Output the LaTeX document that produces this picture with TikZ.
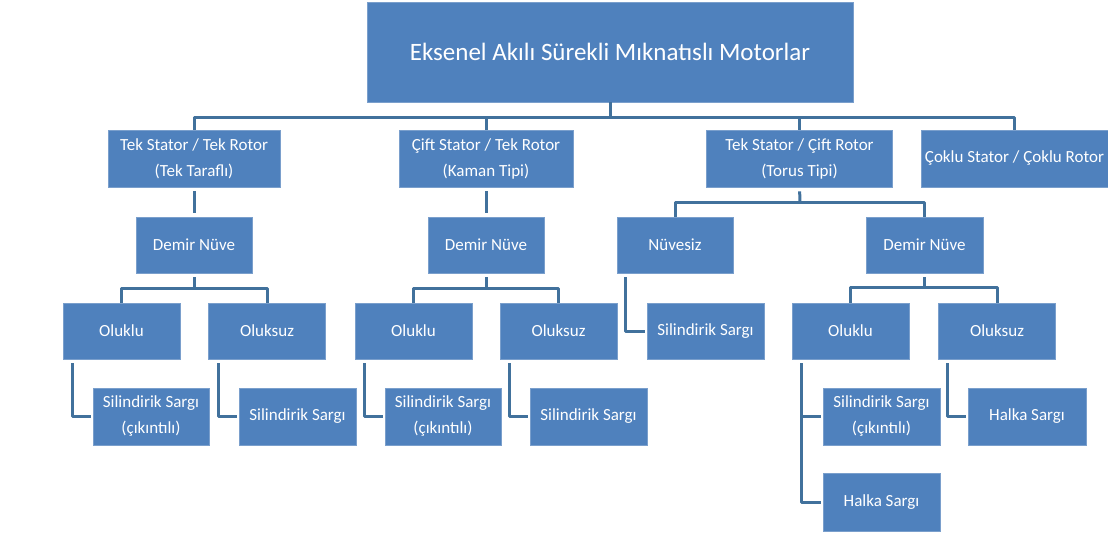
\documentclass[tikz,border=0pt]{standalone}
\usepackage{fontspec}
\setmainfont{Carlito}
\definecolor{boxblue}{HTML}{4F81BD}
\definecolor{boxedge}{HTML}{7A9FCC}
\definecolor{linkblue}{HTML}{41719C}
\newcommand\mybox[6]{\node[box, minimum width=#4pt, minimum height=#5pt] (#1) at (#2,#3) {#6};}
\begin{document}
\begin{tikzpicture}[x=1pt,y=-1pt,
  box/.style={fill=boxblue, draw=boxedge, line width=0.8pt, text=white,
    inner sep=0pt, align=center, font=\fontsize{17}{26}\selectfont},
  conn/.style={draw=linkblue, line width=3pt, line join=round},
  gap/.style={shorten <=4pt, shorten >=4pt},
]
\useasboundingbox (0,0) rectangle (1108,533);

% root
\node[box, minimum width=486pt, minimum height=100pt, font=\fontsize{25}{28}\selectfont]
  (root) at (610,52) {Eksenel Akılı Sürekli Mıknatıslı Motorlar};

% first level
\mybox{A}{194}{158.5}{172}{57}{Tek Stator / Tek Rotor\\(Tek Taraflı)}
\mybox{B}{486}{158.5}{174}{57}{Çift Stator / Tek Rotor\\(Kaman Tipi)}
\mybox{C}{799.5}{158.5}{186}{57}{Tek Stator / Çift Rotor\\(Torus Tipi)}
\mybox{D}{1014.5}{158.5}{187}{57}{Çoklu Stator / Çoklu Rotor}

% second level
\mybox{DA}{194}{245}{116}{56}{Demir Nüve}
\mybox{DB}{486}{245}{116}{56}{Demir Nüve}
\mybox{N}{675}{245}{116}{56}{Nüvesiz}
\mybox{DC}{924.5}{245}{117}{56}{Demir Nüve}

% third level
\mybox{OA}{121.5}{331}{117}{56}{Oluklu}
\mybox{SA}{267}{331}{117}{56}{Oluksuz}
\mybox{OB}{413.5}{331}{117}{56}{Oluklu}
\mybox{SB}{558.5}{331}{117}{56}{Oluksuz}
\mybox{NS}{705.5}{331}{117}{56}{Silindirik Sargı}
\mybox{OC}{850.5}{331}{117}{56}{Oluklu}
\mybox{SC}{997}{331}{117}{56}{Oluksuz}

% fourth level
\mybox{A1}{151}{416.5}{116}{57}{Silindirik Sargı\\(çıkıntılı)}
\mybox{A2}{297.5}{416.5}{117}{57}{Silindirik Sargı}
\mybox{B1}{443}{416.5}{116}{57}{Silindirik Sargı\\(çıkıntılı)}
\mybox{B2}{588.5}{416.5}{117}{57}{Silindirik Sargı}
\mybox{C1}{881.5}{416.5}{117}{57}{Silindirik Sargı\\(çıkıntılı)}
\mybox{C3}{1027}{416.5}{118}{57}{Halka Sargı}
\mybox{C2}{881.5}{502}{117}{58}{Halka Sargı}

% bus lines
\coordinate (busT) at (610,117);
\coordinate (busA) at (194,288);
\coordinate (busB) at (486,288);
\coordinate (busC) at (800,202);
\coordinate (busD) at (924.5,287);

\draw[conn] (root.south) -- (root.south |- busT);
\draw[conn] (A.north) -- (A.north |- busT) -- (D.north |- busT) -- (D.north);
\draw[conn] (B.north) -- (B.north |- busT);
\draw[conn] (C.north) -- (C.north |- busT);

\draw[conn, gap] (A.south) -- (DA.north);
\draw[conn, gap] (B.south) -- (DB.north);

\draw[conn, shorten <=4pt] (DA.south) -- (busA);
\draw[conn] (OA.north) -- (OA.north |- busA) -- (SA.north |- busA) -- (SA.north);
\draw[conn, shorten <=4pt] (DB.south) -- (busB);
\draw[conn] (OB.north) -- (OB.north |- busB) -- (SB.north |- busB) -- (SB.north);
\draw[conn, shorten <=4pt] (C.south) -- (busC);
\draw[conn] (N.north) -- (N.north |- busC) -- (DC.north |- busC) -- (DC.north);
\draw[conn, shorten <=4pt] (DC.south) -- (busD);
\draw[conn] (OC.north) -- (OC.north |- busD) -- (SC.north |- busD) -- (SC.north);

% elbow connectors
\draw[conn, shorten <=4pt, shorten >=2pt] ([xshift=10pt]OA.south west) |- (A1.west);
\draw[conn, shorten <=4pt, shorten >=2pt] ([xshift=10pt]SA.south west) |- (A2.west);
\draw[conn, shorten <=4pt, shorten >=2pt] ([xshift=10pt]OB.south west) |- (B1.west);
\draw[conn, shorten <=4pt, shorten >=2pt] ([xshift=10pt]SB.south west) |- (B2.west);
\draw[conn, shorten <=4pt, shorten >=2pt] ([xshift=9pt]N.south west) |- (NS.west);
\draw[conn, shorten <=4pt, shorten >=2pt] ([xshift=10pt]OC.south west) |- (C2.west);
\draw[conn, shorten >=2pt] ([xshift=10pt]OC.south west |- C1.west) -- (C1.west);
\draw[conn, shorten <=4pt, shorten >=2pt] ([xshift=9pt]SC.south west) |- (C3.west);
\end{tikzpicture}
\end{document}
